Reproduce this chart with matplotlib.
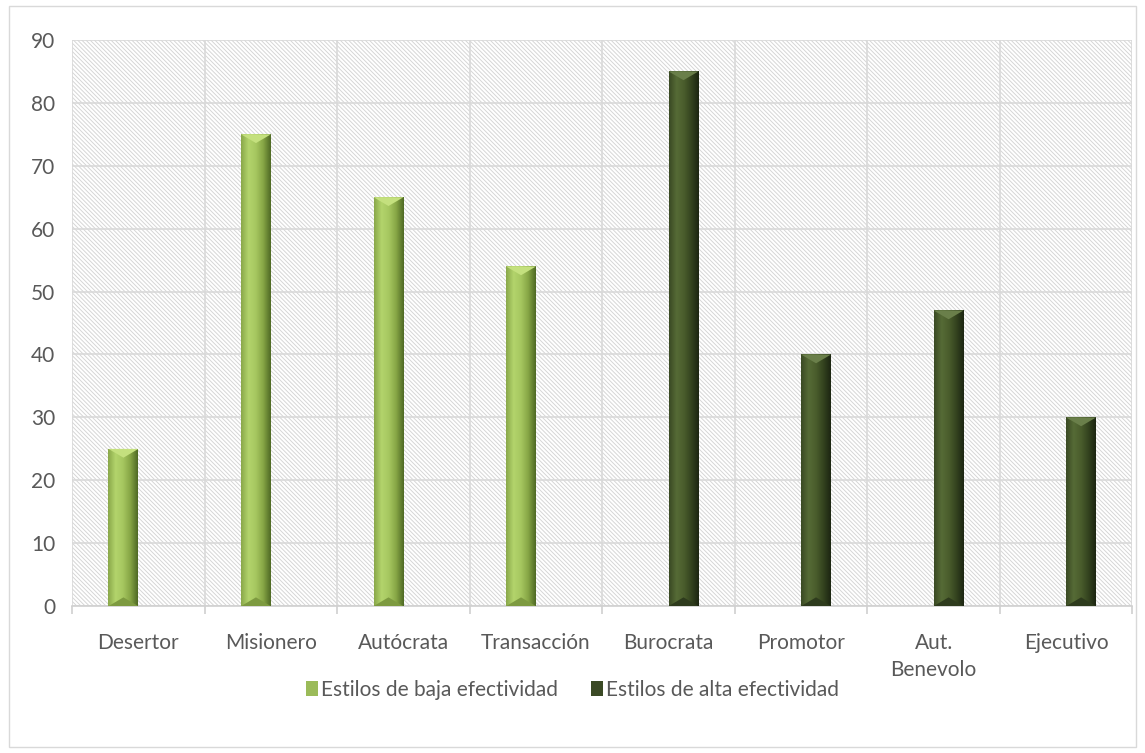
import numpy as np
import matplotlib
matplotlib.use("Agg")
import matplotlib.pyplot as plt
from matplotlib.patches import Patch, Rectangle, Polygon
from matplotlib.colors import LinearSegmentedColormap

plt.rcParams['font.family'] = ['Lato', 'DejaVu Sans']
plt.rcParams['hatch.color'] = '#d6d6d6'
plt.rcParams['hatch.linewidth'] = 0.7

# chart data
categories = ['Desertor', 'Misionero', 'Autócrata', 'Transacción', 'Burocrata',
              'Promotor', 'Aut.\nBenevolo', 'Ejecutivo']
baja = [25, 75, 65, 54, None, None, None, None]
alta = [None, None, None, None, 85, 40, 47, 30]
series_names = ['Estilos de baja efectividad', 'Estilos de alta efectividad']

light_cmap = LinearSegmentedColormap.from_list('light', ['#8aa84a', '#b3d46c', '#a6c760', '#86a545', '#4f6a25'])
dark_cmap = LinearSegmentedColormap.from_list('dark', ['#3a4a24', '#566b36', '#4a5d2c', '#34431f', '#1c2612'])
text_color = '#595959'

fig = plt.figure(figsize=(11.45, 7.53), dpi=100)
ax = fig.add_axes([0.063, 0.195, 0.926, 0.752])

ax.patch.set_facecolor('white')
ax.patch.set_hatch('\\' * 8)
ax.patch.set_edgecolor('#d6d6d6')
ax.patch.set_linewidth(0)

x = np.arange(len(categories))
w = 0.226
grad = np.linspace(0, 1, 64).reshape(1, -1)


def draw_series(values, offset, cmap, top_color, bot_color):
    for xi, v in zip(x, values):
        if v is None:
            continue
        x0 = xi + offset - w / 2
        bar = ax.bar(xi + offset, v, w, color='none', zorder=3)[0]
        im = ax.imshow(grad, cmap=cmap, aspect='auto', extent=(x0, x0 + w, 0, v),
                       zorder=3, interpolation='bilinear')
        im.set_clip_path(bar)
        d = 1.4
        tri = Polygon([(x0, v), (x0 + w, v), (x0 + w / 2, v - d)], closed=True,
                      facecolor=top_color, edgecolor='none', zorder=4)
        ax.add_patch(tri)
        bot = Polygon([(x0, 0), (x0 + w, 0), (x0 + w / 2, d)], closed=True,
                      facecolor=bot_color, edgecolor='none', zorder=4)
        ax.add_patch(bot)


draw_series(baja, -w / 2, light_cmap, '#c4e07e', '#7d9a40')
draw_series(alta, w / 2, dark_cmap, '#6a7f4a', '#2e3b1d')

ax.set_xlim(-0.5, len(categories) - 0.5)
ax.set_ylim(0, 90)
ax.set_yticks(np.arange(0, 91, 10))
ax.set_xticks(x)
ax.set_xticklabels(categories)
ax.set_xticks(np.arange(-0.5, len(categories), 1), minor=True)

ax.grid(True, which='major', axis='y', color='#d9d9d9', linewidth=1.2, zorder=1)
ax.grid(True, which='minor', axis='x', color='#d9d9d9', linewidth=1.2, zorder=1)
ax.set_axisbelow(True)

ax.tick_params(axis='x', which='major', length=0, pad=19, labelsize=15, colors=text_color)
ax.tick_params(axis='x', which='minor', length=6, color='#d0d0d0', width=1.2)
ax.tick_params(axis='y', length=0, pad=12, labelsize=15, colors=text_color)
for lbl in ax.get_xticklabels():
    lbl.set_linespacing(1.45)

for s in ['top', 'right', 'left']:
    ax.spines[s].set_visible(False)
ax.spines['bottom'].set_color('#d0d0d0')
ax.spines['bottom'].set_linewidth(1.2)

handles = [Patch(facecolor='#9bbb59', edgecolor='none'),
           Patch(facecolor='#3b4a25', edgecolor='none')]
fig.legend(handles, series_names, loc='center', bbox_to_anchor=(0.5, 0.084), ncol=2,
           frameon=False, fontsize=15, handlelength=0.55, handleheight=0.8,
           handletextpad=0.15, columnspacing=1.6, labelcolor=text_color)

fig.patches.append(Rectangle((0.008, 0.008), 0.984, 0.984, transform=fig.transFigure,
                             fill=False, edgecolor='#d9d9d9', linewidth=1))

fig.savefig('out.png', dpi=100)
